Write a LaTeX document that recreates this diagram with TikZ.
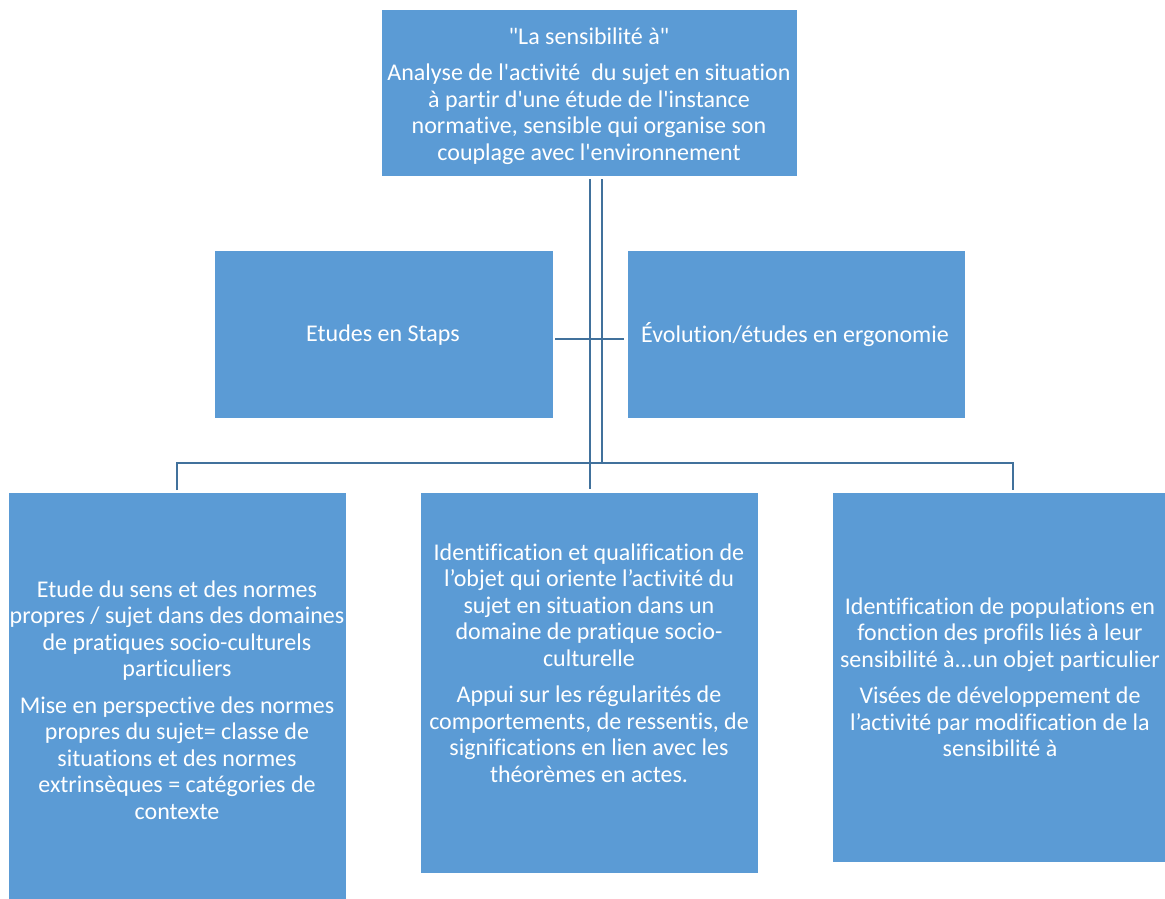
\documentclass[tikz,border=0pt]{standalone}
\usepackage{fontspec}
\setmainfont{Carlito}[Ligatures={TeXOff,NoCommon}]
\definecolor{boxblue}{HTML}{5B9BD5}
\definecolor{lineblue}{HTML}{41719C}
\begin{document}
\begin{tikzpicture}[x=1pt,y=-1pt,
  box/.style={fill=boxblue, draw=white, line width=0.8pt, inner sep=0pt, outer sep=0pt, anchor=north west},
  txt/.style={text=white, align=center, font=\fontsize{24}{26.5}\selectfont, inner sep=0pt},
  conn/.style={draw=lineblue, line width=2.8pt}]
\useasboundingbox (0,0) rectangle (1165,899);
\fill[white] (0,0) rectangle (1165,899);
% boxes
\node[box, minimum width=416pt, minimum height=167pt] (top) at (381,9) {};
\node[box, minimum width=339pt, minimum height=168pt] (S) at (214,250) {};
\node[box, minimum width=338pt, minimum height=168pt] (E) at (627,250) {};
\node[box, minimum width=338pt, minimum height=407pt] (L) at (8,492) {};
\node[box, minimum width=338pt, minimum height=381pt] (M) at (420,492) {};
\node[box, minimum width=333pt, minimum height=370pt] (R) at (832,492) {};
% texts
\node[txt] (ttop) at (589,96) {"La sensibilité à"\\[10pt]
Analyse de l'activité~ du sujet en situation\\
à partir d'une étude de l'instance\\
normative, sensible qui organise son\\
couplage avec l'environnement};
\node[txt] (tS) at (383,335) {Etudes en Staps};
\node[txt] (tE) at (795,335) {Évolution/études en ergonomie};
\node[txt] (tL) at (177,700) {Etude du sens et des normes\\
propres / sujet dans des domaines\\
de pratiques socio-culturels\\
particuliers\\[10pt]
Mise en perspective des normes\\
propres du sujet= classe de\\
situations et des normes\\
extrinsèques = catégories de\\
contexte};
\node[txt] (tM) at (589,663) {Identification et qualification de\\
l’objet qui oriente l’activité du\\
sujet en situation dans un\\
domaine de pratique socio-\\
culturelle\\[10pt]
Appui sur les régularités de\\
comportements, de ressentis, de\\
significations en lien avec les\\
théorèmes en actes.};
\node[txt] (tR) at (1000,677) {Identification de populations en\\
fonction des profils liés à leur\\
sensibilité à...un objet particulier\\[10pt]
Visées de développement de\\
l’activité par modification de la\\
sensibilité à};
% connectors
\coordinate (hub) at (602,463);
\coordinate (dl) at (177,490);
\coordinate (dr) at (1013,490);
\draw[conn] ([xshift=1pt,yshift=-3pt]top.south) -- ([xshift=1pt,yshift=3pt]M.north);
\draw[conn] ([xshift=13pt,yshift=-3pt]top.south) -- (hub);
\draw[conn] (dl) |- (hub) -| (dr);
\draw[conn] ([xshift=2pt,yshift=-5pt]S.east) -- ([xshift=-3pt,yshift=-5pt]E.west);
\end{tikzpicture}
\end{document}
